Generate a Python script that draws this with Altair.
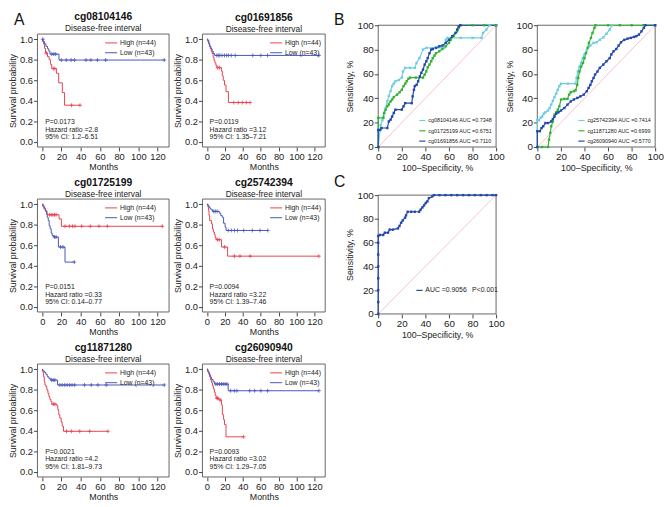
import altair as alt
import pandas as pd

FONT = "Liberation Sans"
INK = "#222222"
FRAME = "#555555"
RED = "#e8414d"
BLUE = "#4656bb"
CYAN = "#6fcde3"
GREEN = "#34b234"
NAVY = "#2347ab"
DIAG = "#f3a9ae"

KM_GROUPS = ["High (n=44)", "Low (n=43)"]
KM_X_DOMAIN = [-5, 132]
KM_Y_DOMAIN = [-0.05, 1.05]
KM_X_TICKS = [0, 20, 40, 60, 80, 100, 120]
KM_Y_TICKS = [0.0, 0.2, 0.4, 0.6, 0.8, 1.0]
ROC_DOMAIN = [0, 100]
ROC_TICKS = [0, 20, 40, 60, 80, 100]
STATS_Y = [0.19, 0.12, 0.05]
STATS_X = 3
LETTERS = ["A", "B", "C"]

KM_TITLES = ["cg08104146", "cg01691856", "cg01725199", "cg25742394", "cg11871280", "cg26090940"]
KM_SUBTITLE = "Disease-free interval"
KM_STATS = [
    ["P=0.0173", "Hazard ratio =2.8", "95% CI: 1.2\u20136.51"],
    ["P=0.0119", "Hazard ratio =3.12", "95% CI: 1.35\u20137.21"],
    ["P=0.0151", "Hazard ratio =0.33", "95% CI: 0.14\u20130.77"],
    ["P=0.0094", "Hazard ratio =3.22", "95% CI: 1.39\u20137.46"],
    ["P=0.0021", "Hazard ratio =4.2", "95% CI: 1.81\u20139.73"],
    ["P=0.0093", "Hazard ratio =3.02", "95% CI: 1.29\u20137.05"],
]

# ---- Kaplan-Meier curves (time in months, survival) ----
P1_HIGH_T = [0, 0.5, 1.4, 2.4, 3.4, 5.5, 7.2, 8.5, 9.9, 14.7, 17.1, 20.9, 23.2, 39.3]
P1_HIGH_S = [1.0, 0.977, 0.953, 0.91, 0.865, 0.83, 0.80, 0.755, 0.714, 0.668, 0.575, 0.48, 0.357, 0.357]
P1_HIGH_C = [4.2, 11.5, 13.0, 30.5, 39.3]
P1_LOW_T = [0, 1.0, 2.4, 3.8, 5.5, 6.8, 8.0, 17.4, 127]
P1_LOW_S = [1.0, 0.977, 0.955, 0.93, 0.907, 0.884, 0.855, 0.797, 0.797]
P1_LOW_C = [0.5, 10.0, 12.0, 14.0, 19.8, 25.0, 30.0, 33.5, 45.5, 50.6, 57.4, 66.0, 127]

P2_HIGH_T = [0, 1.0, 2.1, 3.1, 3.8, 4.8, 5.8, 6.9, 7.9, 8.9, 10.0, 11.0, 16.2, 17.2, 18.2, 19.6, 21.3, 24.0, 48.1]
P2_HIGH_S = [1.0, 0.977, 0.955, 0.93, 0.907, 0.884, 0.86, 0.826, 0.794, 0.768, 0.746, 0.723, 0.688, 0.643, 0.60, 0.553, 0.489, 0.383, 0.383]
P2_HIGH_C = [12.0, 14.0, 30.0, 35.0, 39.5, 44.0, 48.1]
P2_LOW_T = [0, 1.0, 2.1, 3.1, 4.5, 5.8, 7.2, 8.6, 125]
P2_LOW_S = [1.0, 0.987, 0.955, 0.93, 0.907, 0.88, 0.86, 0.842, 0.842]
P2_LOW_C = [11.0, 12.7, 14.4, 16.8, 19.6, 22.0, 24.0, 27.2, 31.6, 51.2, 60.2, 67.7, 125]

P3_HIGH_T = [0, 0.5, 1.7, 3.1, 5.0, 17.5, 19.9, 125]
P3_HIGH_S = [1.0, 0.977, 0.955, 0.932, 0.897, 0.856, 0.785, 0.785]
P3_HIGH_C = [7.6, 9.3, 11.0, 12.7, 14.4, 23.7, 28.2, 31.6, 34.0, 41.0, 50.0, 59.0, 67.7, 125]
P3_LOW_T = [0, 1.0, 2.0, 2.8, 3.4, 4.5, 5.2, 6.2, 7.2, 8.2, 9.3, 10.3, 11.7, 16.8, 23.7, 33.3]
P3_LOW_S = [1.0, 0.984, 0.968, 0.952, 0.936, 0.904, 0.872, 0.84, 0.79, 0.76, 0.72, 0.695, 0.68, 0.583, 0.436, 0.436]
P3_LOW_C = [12.7, 14.4, 19.0, 21.6, 33.3]

P4_HIGH_T = [0, 1.0, 1.7, 2.4, 3.1, 5.2, 6.2, 7.2, 8.3, 9.3, 10.3, 16.2, 23.1, 125]
P4_HIGH_S = [1.0, 0.974, 0.936, 0.888, 0.84, 0.808, 0.76, 0.728, 0.702, 0.673, 0.654, 0.583, 0.494, 0.494]
P4_HIGH_C = [11.7, 13.8, 19.7, 30.7, 36.9, 48.3, 125]
P4_LOW_T = [0, 1.0, 2.0, 3.1, 4.5, 6.5, 13.8, 15.5, 17.2, 18.6, 20.3, 21.4, 67.9]
P4_LOW_S = [1.0, 0.99, 0.977, 0.96, 0.945, 0.93, 0.913, 0.888, 0.872, 0.814, 0.776, 0.744, 0.744]
P4_LOW_C = [7.6, 9.3, 11.4, 23.8, 27.2, 30.7, 34.1, 41.0, 50.7, 59.3, 67.9]

P5_HIGH_T = [0, 0.3, 0.8, 1.4, 2.1, 2.8, 3.8, 4.8, 5.9, 6.9, 7.9, 9.0, 10.0, 15.2, 16.2, 17.2, 18.3, 19.7, 20.7, 22.1, 68.3]
P5_HIGH_S = [1.0, 0.98, 0.968, 0.926, 0.878, 0.846, 0.83, 0.797, 0.765, 0.733, 0.707, 0.685, 0.659, 0.643, 0.605, 0.556, 0.524, 0.486, 0.444, 0.395, 0.395]
P5_HIGH_C = [11.4, 13.1, 25.2, 30.3, 39.0, 49.3, 68.3]
P5_LOW_T = [0, 0.3, 1.4, 2.4, 3.8, 5.2, 6.9, 8.6, 15.9, 127]
P5_LOW_S = [1.0, 0.99, 0.98, 0.968, 0.949, 0.926, 0.91, 0.894, 0.846, 0.846]
P5_LOW_C = [9.7, 11.4, 13.1, 18.3, 20.7, 23.4, 25.9, 28.6, 31.0, 33.8, 44.0, 51.0, 57.9, 66.6, 127]

P6_HIGH_T = [0, 1.0, 2.1, 3.1, 4.1, 5.2, 6.2, 7.2, 8.3, 9.3, 10.3, 13.4, 16.2, 17.2, 18.6, 19.6, 21.3, 41.0]
P6_HIGH_S = [1.0, 0.974, 0.949, 0.923, 0.894, 0.868, 0.839, 0.807, 0.775, 0.743, 0.717, 0.70, 0.653, 0.556, 0.508, 0.46, 0.341, 0.341]
P6_HIGH_C = [11.4, 12.1, 14.8, 41.0]
P6_LOW_T = [0, 1.0, 2.1, 3.1, 4.1, 5.2, 6.9, 8.6, 23.7, 125]
P6_LOW_S = [1.0, 0.98, 0.965, 0.942, 0.92, 0.90, 0.878, 0.855, 0.79, 0.79]
P6_LOW_C = [10.0, 12.0, 14.1, 16.2, 18.2, 20.3, 22.4, 26.5, 30.6, 33.4, 47.8, 53.3, 60.2, 67.7, 125]

# ---- ROC curves (100-specificity %, sensitivity %) ----
B1_LABELS = ["cg08104146 AUC =0.7348", "cg01725199 AUC =0.6751", "cg01691856 AUC =0.7110"]
B2_LABELS = ["cg25742394 AUC =0.7414", "cg11871280 AUC =0.6999", "cg26090940 AUC =0.5770"]
C_LABELS = ["AUC =0.9056\u2002 P<0.001"]

R1_X = [0, 2, 3.6, 5, 6.3, 7.7, 9, 10.5, 11.8, 13.2, 14.6, 17.4, 20, 21, 23, 27, 31, 32.5, 35, 38, 40.8, 48, 56, 57.3, 58.7, 70, 80, 87.6, 89, 91.7, 94.5, 100]
R1_Y = [0, 18, 22, 28, 32, 37.5, 42, 46, 50, 52, 54, 55, 57, 62, 65, 65, 65, 69, 73, 80, 81.4, 81.4, 81.4, 88, 89.6, 89.6, 89.6, 89.6, 93.7, 96.4, 100, 100]
R2_X = [0, 0, 4.4, 5, 6.3, 7.7, 9, 10.5, 11.8, 13.2, 16, 18.2, 20, 21.5, 22.9, 24.2, 25.6, 27, 32, 38, 39.4, 40.8, 42, 43.5, 45, 46.3, 47.7, 49, 51.8, 54.5, 57.3, 60, 61.4, 64.2, 67, 68.3, 69.7, 80, 90, 100]
R2_Y = [0, 24, 24, 28, 30.7, 33.4, 35, 37.5, 39, 41, 43, 45, 47, 50, 52, 54, 56, 57, 57, 57, 59.5, 62, 65.5, 67.7, 70.4, 73, 75, 77, 78.6, 80.5, 82.7, 85.5, 88, 91.5, 95, 97.8, 100, 100, 100, 100]
R3_X = [0, 0, 1.7, 2.8, 7.7, 9, 10.5, 11.8, 13.2, 14.6, 20, 21.5, 22.9, 28.4, 29.2, 30.3, 31, 32.5, 33.9, 35.3, 36.6, 38, 39.4, 40.8, 42, 43.5, 45, 46.3, 49, 51.8, 54.5, 57.3, 60, 62.8, 65.6, 67, 68.3, 69.7, 100]
R3_Y = [0, 14, 14, 15.6, 15.6, 21, 22.5, 25, 28, 30.7, 30.7, 33.4, 36, 36, 41.6, 47, 50, 51, 54, 58, 61, 63.5, 67.7, 70.4, 73, 77, 80, 80.5, 81.4, 82.7, 83.3, 85.5, 88, 91, 93.7, 96.4, 99, 100, 100]

R4_X = [0, 0, 1.4, 2.8, 4.1, 5.5, 6.9, 9.1, 10.5, 11.8, 13.2, 14.6, 16, 17.4, 18.7, 20.1, 26, 32.5, 33.3, 34.4, 35.8, 37.2, 38.6, 40, 42, 45, 47.7, 50.4, 53, 56, 58.7, 61.4, 63.4]
R4_Y = [0, 22, 22, 24, 25, 27.4, 28.5, 30, 32, 34.8, 38, 41, 43.8, 47, 50, 52, 52, 52, 56.7, 62, 66, 69, 73, 76, 79.5, 83.3, 85.5, 86, 88, 90, 93, 96.4, 100]
R5_X = [0, 4, 9.1, 9.9, 11, 11.8, 13.2, 14.6, 16, 17.4, 18.7, 20.1, 22.9, 25.6, 27, 28.4, 31, 32.5, 33.9, 34.7, 35.8, 37.2, 38.8, 40, 41.3, 42.7, 43.8, 45.5, 46.8, 48.5, 49.3, 60, 70, 80, 90, 100]
R5_Y = [0, 0, 0, 6, 11.5, 17, 21, 26.6, 28.5, 30.7, 33.4, 39, 39.5, 39.5, 43, 45, 45.8, 46.6, 51, 56.7, 62, 66, 69, 73, 77, 81.4, 85.5, 89.6, 93.7, 97.8, 100, 100, 100, 100, 100, 100]
R6_X = [0, 0, 2.2, 3.6, 5, 6.9, 9.1, 11.8, 13.2, 14.6, 16, 17.9, 20.1, 22.9, 25.6, 28.4, 31, 33.9, 36.6, 39.4, 42, 43.5, 45, 46.3, 47.7, 49, 51, 53, 56, 58.7, 61.4, 62.8, 64.7, 67, 69, 71, 73.8, 76.6, 79.3, 82, 84, 86.2, 88.4, 90.4, 91.7, 100]
R6_Y = [0, 13, 13, 15.6, 17, 19.7, 19.7, 21, 23, 25, 27.4, 28.5, 30, 32, 34.8, 37.5, 39, 40.3, 41.6, 43, 45.8, 48.5, 51, 54, 56.7, 59.5, 62, 65, 67.7, 70.4, 73, 76, 78.6, 80.5, 83.3, 86, 88, 89, 89.6, 90.4, 91, 92.3, 95, 97.8, 100, 100]

R7_X = [0, 0, 0, 0, 0, 0, 0, 0, 1.4, 4.2, 5.6, 8.3, 9.7, 12.5, 16.7, 18, 19.4, 20.8, 22.8, 23.6, 25, 28, 31, 34.7, 36, 37.5, 38.9, 40.3, 41.7, 43, 45.8, 47.2, 52, 57, 62, 67, 72, 77, 82, 87, 92, 97, 100]
R7_Y = [0, 10, 20, 30, 40, 50, 60, 65.6, 66.5, 66.5, 68.4, 68.4, 71, 71, 72, 74, 76.7, 78.7, 81, 83, 86, 86, 86, 86, 87.8, 89.7, 91.4, 93.4, 94.7, 97.5, 98.9, 100, 100, 100, 100, 100, 100, 100, 100, 100, 100, 100, 100]

PLUS = "M-1,0L1,0M0,-1L0,1"
KM_H = 115          # framed plot height
KM_TOP_PAD = 9      # blank band above the KM frame (lets the ROC row sit higher)
ROC_W = 120
KM_Y_TOP = KM_Y_DOMAIN[1] + (KM_Y_DOMAIN[1] - KM_Y_DOMAIN[0]) * KM_TOP_PAD / KM_H


def step_value(T, S, t):
    v = S[0]
    for ti, si in zip(T, S):
        if ti <= t:
            v = si
    return v


def letter_layer(letter, dx, dy):
    return alt.Chart(pd.DataFrame({"t": [letter]})).mark_text(
        fontSize=16, font=FONT, align="left", baseline="alphabetic", color="#111"
    ).encode(text="t:N", x=alt.value(dx), y=alt.value(dy))


def axis(values, title, lsize, tsize, tpad, fmt=None, title_y=None):
    kw = dict(values=values, tickCount=len(values), title=title, labelFontSize=lsize,
              titleFontSize=tsize, tickSize=4, labelPadding=1, titlePadding=tpad,
              labelOverlap=False, labelFlush=False, labelBound=False)
    if fmt:
        kw["format"] = fmt
    if title_y is not None:
        kw["titleY"] = title_y
    return alt.Axis(**kw)


def frame_layer(xd, yd, xenc_ax, yenc_ax, xscale, yscale):
    df = pd.DataFrame({"x1": [xd[0]], "x2": [xd[1]], "y1": [yd[0]], "y2": [yd[1]]})
    return alt.Chart(df).mark_rect(fillOpacity=0, stroke=FRAME, strokeWidth=0.9).encode(
        x=alt.X("x1:Q", scale=xscale, axis=xenc_ax),
        x2="x2:Q",
        y=alt.Y("y1:Q", scale=yscale, axis=yenc_ax),
        y2="y2:Q")


def km_panel(i, high, low, width, letter=None):
    rows, cens = [], []
    for grp, (T, S, C) in zip(KM_GROUPS, [high, low]):
        for t, s in zip(T, S):
            rows.append({"t": t, "s": s, "g": grp})
        for c in C:
            cens.append({"t": c, "s": step_value(T, S, c), "g": grp})
    cscale = alt.Scale(domain=KM_GROUPS, range=[RED, BLUE])
    xscale = alt.Scale(domain=KM_X_DOMAIN, nice=False, zero=False)
    yscale = alt.Scale(domain=[KM_Y_DOMAIN[0], KM_Y_TOP], nice=False, zero=False)
    frame = frame_layer(KM_X_DOMAIN, KM_Y_DOMAIN,
                        axis(KM_X_TICKS, "Months", 9.5, 9, 1),
                        axis(KM_Y_TICKS, "Survival probability", 9.5, 9, 2, ".1f",
                             title_y=KM_TOP_PAD + KM_H / 2),
                        xscale, yscale)
    lines = alt.Chart(pd.DataFrame(rows)).mark_line(
        interpolate="step-after", strokeWidth=1).encode(
        x=alt.X("t:Q", scale=xscale), y=alt.Y("s:Q", scale=yscale),
        color=alt.Color("g:N", scale=cscale, legend=alt.Legend(
            title=None, orient="none", legendX=68, legendY=2 + KM_TOP_PAD, labelFontSize=7,
            symbolType="stroke", symbolSize=150, symbolStrokeWidth=1,
            rowPadding=0, padding=0, labelOffset=2, labelColor=INK)))
    marks = alt.Chart(pd.DataFrame(cens)).mark_point(
        shape=PLUS, size=16, strokeWidth=0.8, filled=False, opacity=1).encode(
        x="t:Q", y="s:Q", color=alt.Color("g:N", scale=cscale, legend=None))
    st = alt.Chart(pd.DataFrame({"x": [STATS_X] * 3, "y": STATS_Y, "txt": KM_STATS[i]})).mark_text(
        align="left", baseline="middle", fontSize=7, font=FONT, color=INK).encode(
        x="x:Q", y="y:Q", text="txt:N")
    layers = [frame, lines, marks, st]
    offset = 1 - KM_TOP_PAD
    if letter:
        layers.append(letter_layer(letter, -24, KM_TOP_PAD - 9))
        offset = -20.5
    return alt.layer(*layers).properties(
        width=width, height=KM_H + KM_TOP_PAD,
        title=alt.TitleParams(text=KM_TITLES[i], subtitle=KM_SUBTITLE, fontSize=10.5,
                              fontWeight="bold", subtitleFontSize=8.5, anchor="middle",
                              frame="group", offset=offset, subtitlePadding=1.5))


def roc_panel(labels, xs_list, ys_list, colors, height, legend_x, legend_y, label_size, letter, ldy):
    rows = []
    for lab, xs, ys in zip(labels, xs_list, ys_list):
        for k, (x, y) in enumerate(zip(xs, ys)):
            rows.append({"fpr": x, "tpr": y, "g": lab, "k": k})
    xscale = alt.Scale(domain=ROC_DOMAIN, nice=False)
    yscale = alt.Scale(domain=ROC_DOMAIN, nice=False)
    frame = frame_layer(ROC_DOMAIN, ROC_DOMAIN,
                        axis(ROC_TICKS, "100\u2013Specificity, %", 10, 9, 2),
                        axis(ROC_TICKS, "Sensitivity, %", 10, 9, 2),
                        xscale, yscale)
    diag = alt.Chart(pd.DataFrame({"fpr": ROC_DOMAIN, "tpr": ROC_DOMAIN})).mark_line(
        color=DIAG, strokeWidth=0.7).encode(x=alt.X("fpr:Q", scale=xscale), y=alt.Y("tpr:Q", scale=yscale))
    curves = alt.Chart(pd.DataFrame(rows)).mark_line(
        strokeWidth=1.2, point=alt.OverlayMarkDef(shape="square", size=6, filled=True)).encode(
        x="fpr:Q", y="tpr:Q", order="k:Q",
        color=alt.Color("g:N", scale=alt.Scale(domain=labels, range=colors), legend=alt.Legend(
            title=None, orient="none", legendX=legend_x, legendY=legend_y,
            labelFontSize=label_size, symbolType="stroke", symbolSize=40, symbolStrokeWidth=1.2,
            rowPadding=2.5, padding=0, labelOffset=2, labelColor=INK, labelLimit=200)))
    layers = [frame, diag, curves]
    if letter:
        layers.append(letter_layer(letter, -45, ldy))
    return alt.layer(*layers).properties(width=ROC_W, height=height)


def ind(ch):
    return ch.resolve_scale(color="independent").resolve_legend(color="independent")


km1 = km_panel(0, (P1_HIGH_T, P1_HIGH_S, P1_HIGH_C), (P1_LOW_T, P1_LOW_S, P1_LOW_C), 134, LETTERS[0])
km2 = km_panel(1, (P2_HIGH_T, P2_HIGH_S, P2_HIGH_C), (P2_LOW_T, P2_LOW_S, P2_LOW_C), 125)
km3 = km_panel(2, (P3_HIGH_T, P3_HIGH_S, P3_HIGH_C), (P3_LOW_T, P3_LOW_S, P3_LOW_C), 134)
km4 = km_panel(3, (P4_HIGH_T, P4_HIGH_S, P4_HIGH_C), (P4_LOW_T, P4_LOW_S, P4_LOW_C), 125)
km5 = km_panel(4, (P5_HIGH_T, P5_HIGH_S, P5_HIGH_C), (P5_LOW_T, P5_LOW_S, P5_LOW_C), 134)
km6 = km_panel(5, (P6_HIGH_T, P6_HIGH_S, P6_HIGH_C), (P6_LOW_T, P6_LOW_S, P6_LOW_C), 125)

b1 = roc_panel(B1_LABELS, [R1_X, R2_X, R3_X], [R1_Y, R2_Y, R3_Y], [CYAN, GREEN, NAVY],
               124, 41, 93, 5.5, LETTERS[1], 0)
b2 = roc_panel(B2_LABELS, [R4_X, R5_X, R6_X], [R4_Y, R5_Y, R6_Y], [CYAN, GREEN, NAVY],
               124, 41, 93, 5.5, None, 0)
c = roc_panel(C_LABELS, [R7_X], [R7_Y], [NAVY], 121, 38, 93, 7, LETTERS[2], -8)

left = ind(alt.vconcat(
    ind(alt.hconcat(km1, km2, spacing=3)),
    ind(alt.hconcat(km3, km4, spacing=3)),
    ind(alt.hconcat(km5, km6, spacing=3)),
    spacing=6))
right = ind(alt.vconcat(ind(alt.hconcat(b1, b2, spacing=0)), c, spacing=2))

chart = ind(alt.concat(left, right, columns=2, spacing=8, align="none")).properties(
    padding={"left": 0, "top": 0, "right": 0, "bottom": 0}
).configure(font=FONT).configure_axis(
    labelFont=FONT, titleFont=FONT, labelColor=INK, titleColor=INK, tickColor="#444",
    titleFontWeight="normal", domain=False, grid=False, labelOverlap=False
).configure_view(stroke=None).configure_legend(
    labelFont=FONT
).configure_title(font=FONT, subtitleFont=FONT, color="#111", subtitleColor=INK)

chart.save("out.html", embed_options={"renderer": "svg", "actions": False})
